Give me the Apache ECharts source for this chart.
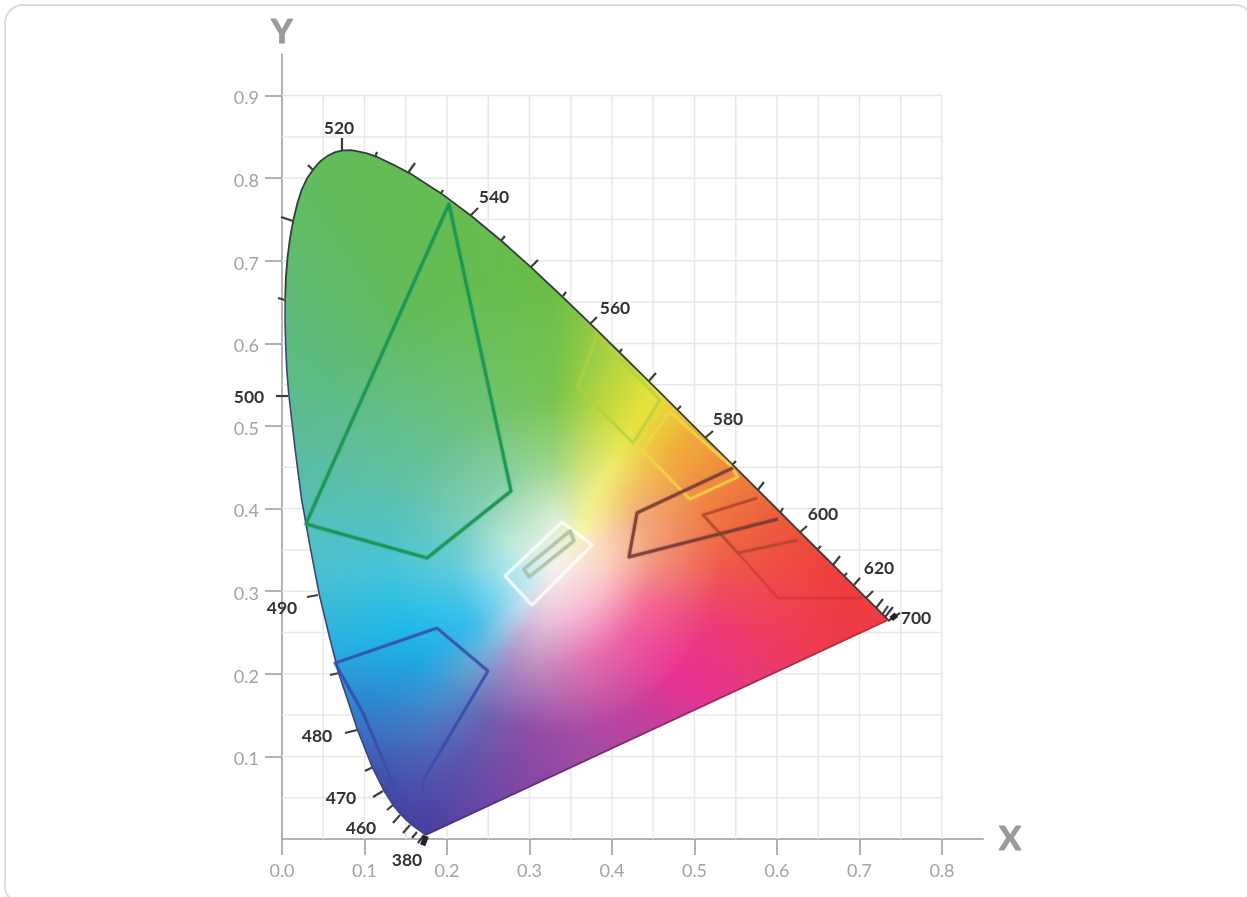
<!DOCTYPE html>
<html>
<head>
<meta charset="utf-8">
<style>
  html, body { margin: 0; padding: 0; background: #fff; }
  #chart { width: 1247px; height: 897px; }
</style>
<script src="https://cdn.jsdelivr.net/npm/echarts@6/dist/echarts.min.js"></script>
</head>
<body>
<div id="chart"></div>
<script>
// spectral locus, from 380 up the left side to 700
const locusLeft = [
  [0.1741, 0.005], [0.1566, 0.0177], [0.151, 0.0227], [0.144, 0.0297], [0.1355, 0.0399],
  [0.1241, 0.0578], [0.1096, 0.0868], [0.0913, 0.1327], [0.0805, 0.1655], [0.0687, 0.2007], [0.057, 0.247],
  [0.0454, 0.295], [0.0342, 0.353], [0.0235, 0.4127], [0.0155, 0.475], [0.0082, 0.5384], [0.0058, 0.568],
  [0.0045, 0.597], [0.0037, 0.626], [0.0039, 0.6548]
]
const locusRight = [
  [0.0039, 0.6548], [0.0047, 0.68], [0.0068, 0.705], [0.0098, 0.728], [0.0139, 0.7502], [0.0185, 0.769],
  [0.0238, 0.786], [0.0305, 0.8], [0.0389, 0.812], [0.0465, 0.8205], [0.0551, 0.827], [0.0645, 0.8315],
  [0.0743, 0.8338], [0.084, 0.834], [0.0936, 0.8322], [0.104, 0.8298], [0.1142, 0.8262], [0.1345, 0.8165],
  [0.155, 0.8059], [0.1929, 0.7816], [0.2296, 0.7543],
  [0.2658, 0.7243], [0.3016, 0.6923], [0.3373, 0.6589], [0.3731, 0.6245], [0.4087, 0.5896], [0.4441, 0.5547],
  [0.4788, 0.5202], [0.5125, 0.4866], [0.5448, 0.4544], [0.5752, 0.4242], [0.6029, 0.3965], [0.627, 0.3725],
  [0.6482, 0.3514], [0.6658, 0.334], [0.6915, 0.3083], [0.7079, 0.292], [0.719, 0.2809], [0.7347, 0.2653]
]

// tick marks across the locus: x1, y1, x2, y2
const tickSegments = [
  [-0.0048, 0.655, 0.0036, 0.6525], [-0.0012, 0.753, 0.0133, 0.7482], [0.0315, 0.816, 0.04, 0.8075],
  [0.0727, 0.8487, 0.0727, 0.8341], [0.1152, 0.8317, 0.1127, 0.8257], [0.1612, 0.8184, 0.1527, 0.8063],
  [0.1952, 0.7857, 0.1915, 0.7797], [0.2376, 0.7639, 0.2279, 0.7542], [0.2703, 0.73, 0.2642, 0.7228],
  [0.3103, 0.701, 0.3006, 0.6913], [0.3442, 0.6622, 0.3406, 0.6574], [0.3818, 0.632, 0.3721, 0.6223],
  [0.4121, 0.5932, 0.4085, 0.5884], [0.4533, 0.5642, 0.4436, 0.5533], [0.4836, 0.5242, 0.4788, 0.5194],
  [0.5224, 0.4939, 0.5127, 0.4855], [0.5503, 0.4576, 0.5455, 0.4528], [0.5842, 0.4322, 0.5758, 0.4213],
  [0.6073, 0.4007, 0.6036, 0.3947], [0.6364, 0.3789, 0.6267, 0.3705], [0.6533, 0.3547, 0.6485, 0.3499],
  [0.6764, 0.3426, 0.6679, 0.3317], [0.6848, 0.322, 0.68, 0.3172], [0.7006, 0.316, 0.6921, 0.3063],
  [0.7164, 0.3002, 0.7079, 0.2918], [0.7285, 0.2906, 0.72, 0.2797], [0.7345, 0.2821, 0.7273, 0.2712],
  [0.7406, 0.2809, 0.7309, 0.2688], [0.7491, 0.2736, 0.7345, 0.2639],
  [-0.0073, 0.5363, 0.0073, 0.5363], [0.0303, 0.293, 0.0436, 0.2954], [0.0582, 0.1985, 0.0691, 0.201],
  [0.0764, 0.1283, 0.0909, 0.132], [0.1006, 0.0823, 0.1103, 0.0872], [0.1103, 0.0508, 0.1224, 0.0581],
  [0.1273, 0.0351, 0.1345, 0.0412], [0.1345, 0.0194, 0.143, 0.0291], [0.1467, 0.0073, 0.1552, 0.0169],
  [0.1576, 0.0012, 0.1636, 0.0085], [0.1648, -0.0048, 0.1721, 0.0048]
]
// the ticks run together into dark blobs at both ends of the locus
const endBlobs = [[0.1705, -0.0075, 0.1748, 0.0035], [0.7385, 0.2665, 0.7447, 0.2715]]

const wavelengthNames = ['520', '540', '560', '580', '600', '620', '700', '500', '490', '480', '470', '460', '380']
const wavelengthX = [0.0691, 0.257, 0.4036, 0.5406, 0.6558, 0.7236, 0.7685, -0.04, 0, 0.0424, 0.0715, 0.0958, 0.1515]
const wavelengthY = [0.8608, 0.7772, 0.6429, 0.5085, 0.3935, 0.3281, 0.2676, 0.5351, 0.2797, 0.1247, 0.0496, 0.0133, -0.0254]

// binned regions
const greenRegion = [[0.2024, 0.7688], [0.2776, 0.4213], [0.1758, 0.3402], [0.029, 0.3814]]
const blueRegion = [
  [0.0642, 0.213], [0.1879, 0.2554], [0.2497, 0.2034], [0.171, 0.0714], [0.1721, 0.012],
  [0.1394, 0.0557], [0.1188, 0.1041], [0.0982, 0.1525]
]
const limeRegion = [[0.3818, 0.6102], [0.3588, 0.5472], [0.4255, 0.4794], [0.4582, 0.5315]]
const yellowRegion = [[0.4703, 0.517], [0.4364, 0.4709], [0.4945, 0.4116], [0.5527, 0.4383], [0.543, 0.4528]]
const amberRegion = [[0.5467, 0.4492], [0.4303, 0.3947], [0.4206, 0.3414], [0.6012, 0.3874]]
const orangeRegion = [[0.5758, 0.4128], [0.5103, 0.3923], [0.5527, 0.3462], [0.6255, 0.362]]
const redRegion = [[0.5527, 0.3462], [0.6012, 0.2918], [0.703, 0.2918]]
const whiteOuter = [[0.3394, 0.3838], [0.3758, 0.3559], [0.303, 0.2833], [0.2703, 0.3184]]
const whiteInner = [[0.3491, 0.3729], [0.3539, 0.3608], [0.2994, 0.3172], [0.2933, 0.3269]]

const xTicks = [0, 0.1, 0.2, 0.3, 0.4, 0.5, 0.6, 0.7, 0.8]
const yTicks = [0.1, 0.2, 0.3, 0.4, 0.5, 0.6, 0.7, 0.8, 0.9]
const xGridLines = [0.05, 0.1, 0.15, 0.2, 0.25, 0.3, 0.35, 0.4, 0.45, 0.5, 0.55, 0.6, 0.65, 0.7, 0.75, 0.8]
const yGridLines = [0.05, 0.1, 0.15, 0.2, 0.25, 0.3, 0.35, 0.4, 0.45, 0.5, 0.55, 0.6, 0.65, 0.7, 0.75, 0.8, 0.85, 0.9]

// colours of the horseshoe seen along rays out of the white point
const whitePoint = [0.33, 0.33]
const rayRadii = [0, 0.06, 0.12, 0.2, 0.35]
const rayAngles = [0, 15, 30, 45, 60, 75, 90, 120, 150, 180, 200, 215, 230, 245, 260, 280, 300, 320, 340]
const rayColors = [
  ['#f6f3ee', '#fbd0c4', '#f39080', '#ee5a4c', '#ee3d3a'],
  ['#f6f3ee', '#fbd8c0', '#f3a07c', '#ee7440', '#ee4a36'],
  ['#f6f3ee', '#fcdcc0', '#f2a878', '#f09040', '#ee7a3a'],
  ['#f6f3ee', '#f8f0b0', '#f2c868', '#f0b03a', '#f0a83a'],
  ['#f6f3ee', '#f5f3a0', '#efee7c', '#e8e43a', '#e4e23c'],
  ['#f6f3ee', '#e0eec0', '#cde17a', '#b8d63f', '#a0cf45'],
  ['#f6f3ee', '#d8efd5', '#a0d788', '#78c54f', '#6abd45'],
  ['#f6f3ee', '#c4e8cc', '#88cfa4', '#6cc27c', '#62bc5a'],
  ['#f6f3ee', '#bee9da', '#7ccdb8', '#62c1a4', '#5cbb92'],
  ['#f6f3ee', '#a8e5e8', '#62ccd9', '#46c4d8', '#50c0c8'],
  ['#f6f3ee', '#9fe0f0', '#40c4e8', '#20bbe6', '#30a4dc'],
  ['#f6f3ee', '#a8dff0', '#38bcec', '#1ea8e2', '#3a6cc0'],
  ['#f6f3ee', '#c4dfef', '#78b8dc', '#4a90cc', '#4048a8'],
  ['#f6f3ee', '#dcc8e0', '#b090c8', '#6a62b0', '#4b3fa0'],
  ['#f6f3ee', '#e8c8dc', '#c090c0', '#8a4ca4', '#7040a4'],
  ['#f6f3ee', '#f2c0d8', '#d878b4', '#a84ca4', '#8a48a4'],
  ['#f6f3ee', '#f5bcd4', '#e868a8', '#c4409e', '#b0469b'],
  ['#f6f3ee', '#f8c0cc', '#ef5ea0', '#ea3090', '#d8408e'],
  ['#f6f3ee', '#fac6c8', '#f26c90', '#ec3a78', '#ee3a50']
]

const chart = echarts.init(document.getElementById('chart'))
const locus = locusLeft.concat(locusRight.slice(1))
const px = (api, pts) => pts.map(p => api.coord(p))

const hexRgb = h => [1, 3, 5].map(i => parseInt(h.slice(i, i + 2), 16))
const rayRgb = rayColors.map(r => r.map(hexRgb))

// paints the colour field on a canvas that the locus polygon uses as its fill
let fieldCanvas = null
function colourField(api) {
  if (fieldCanvas) return fieldCanvas
  const o = api.coord([0, 0])
  const u = api.size([1, 1])
  const cv = document.createElement('canvas')
  cv.width = 1247
  cv.height = 897
  const ctx = cv.getContext('2d')
  const img = ctx.createImageData(cv.width, cv.height)
  const n = rayAngles.length
  for (let py = 130; py < 860; py++) {
    for (let pxx = 270; pxx < 910; pxx++) {
      const dx = (pxx - o[0]) / u[0] - whitePoint[0]
      const dy = (o[1] - py) / u[1] - whitePoint[1]
      let a = (Math.atan2(dy, dx) * 180) / Math.PI
      if (a < 0) a += 360
      const r = Math.hypot(dx, dy)
      let i = n - 1
      while (i > 0 && rayAngles[i] > a) i--
      const nextAngle = i === n - 1 ? 360 : rayAngles[i + 1]
      const ta = (a - rayAngles[i]) / (nextAngle - rayAngles[i])
      let j = 0
      while (j < rayRadii.length - 2 && rayRadii[j + 1] < r) j++
      const tr = Math.min(1, (r - rayRadii[j]) / (rayRadii[j + 1] - rayRadii[j]))
      const r0 = rayRgb[i]
      const r1 = rayRgb[(i + 1) % n]
      const k = (py * cv.width + pxx) * 4
      for (let c = 0; c < 3; c++) {
        const v0 = r0[j][c] + (r0[j + 1][c] - r0[j][c]) * tr
        const v1 = r1[j][c] + (r1[j + 1][c] - r1[j][c]) * tr
        img.data[k + c] = v0 + (v1 - v0) * ta
      }
      img.data[k + 3] = 255
    }
  }
  ctx.putImageData(img, 0, 0)
  // the original image is soft, so take the creases out of the mesh
  const soft = document.createElement('canvas')
  soft.width = cv.width
  soft.height = cv.height
  const sctx = soft.getContext('2d')
  sctx.filter = 'blur(4px)'
  sctx.drawImage(cv, 0, 0)
  fieldCanvas = soft
  return soft
}

const markSeries = (items, z, draw) => ({
  type: 'custom',
  coordinateSystem: 'cartesian2d',
  silent: true,
  clip: false,
  z,
  encode: { x: 0 },
  data: items.map((_, i) => [i]),
  renderItem: (params, api) => draw(items[params.dataIndex], api)
})

const segmentSeries = (items, color, width, z) =>
  markSeries(items, z, (t, api) => {
    const a = api.coord([t[0], t[1]])
    const b = api.coord([t[2], t[3]])
    return { type: 'line', shape: { x1: a[0], y1: a[1], x2: b[0], y2: b[1] }, style: { stroke: color, lineWidth: width } }
  })

const regionSeries = (points, color, width, z, type = 'polygon') =>
  markSeries([points], z, (pts, api) => ({
    type,
    shape: { points: px(api, pts) },
    style: {
      fill: 'none',
      stroke: typeof color === 'function' ? color(api) : color,
      lineWidth: width,
      lineJoin: 'round',
      shadowBlur: 2,
      shadowColor: typeof color === 'function' ? 'rgba(55,72,170,0.3)' : color
    }
  }))

// the blue region fades out towards the bottom tip
const blueStroke = api => {
  const top = api.coord([0, 0.11])
  const bottom = api.coord([0, 0.04])
  return new echarts.graphic.LinearGradient(0, top[1], 0, bottom[1], [
    { offset: 0, color: 'rgba(55,72,170,0.8)' },
    { offset: 1, color: 'rgba(55,72,170,0.06)' }
  ], true)
}

chart.setOption({
  animation: false,
  backgroundColor: '#fff',
  graphic: [
    {
      type: 'rect',
      shape: { x: 5, y: 5, width: 1248, height: 899, r: 18 },
      style: { fill: 'none', stroke: '#dcdcdc', lineWidth: 2 },
      silent: true
    },
    { type: 'text', x: 282, y: 32, style: { text: 'Y', font: 'bold 33px Lato', fill: '#9b9b9b', stroke: '#9b9b9b', lineWidth: 1.2, align: 'center', verticalAlign: 'middle' } },
    { type: 'text', x: 1010, y: 839, style: { text: 'X', font: 'bold 33px Lato', fill: '#9b9b9b', stroke: '#9b9b9b', lineWidth: 1.2, align: 'center', verticalAlign: 'middle' } }
  ],
  grid: { left: 282, top: 54.3, width: 701.25, height: 784.7 },
  xAxis: {
    type: 'value',
    min: 0,
    max: 0.85,
    axisLine: { show: true, onZero: false, lineStyle: { color: '#999', width: 1.5 } },
    axisTick: { show: true, length: 16, customValues: xTicks, lineStyle: { color: '#999', width: 1.5 } },
    axisLabel: { customValues: xTicks, margin: 23, color: '#a3a3a3', fontFamily: 'Lato', fontSize: 18, formatter: v => v.toFixed(1) },
    splitLine: { show: false }
  },
  yAxis: {
    type: 'value',
    min: 0,
    max: 0.95,
    axisLine: { show: true, onZero: false, lineStyle: { color: '#999', width: 1.5 } },
    axisTick: { show: true, length: 17, customValues: yTicks, lineStyle: { color: '#999', width: 1.5 } },
    axisLabel: { customValues: yTicks, margin: 23, verticalAlign: 'top', lineHeight: 6, color: '#a3a3a3', fontFamily: 'Lato', fontSize: 18, formatter: v => v.toFixed(1) },
    splitLine: { show: false }
  },
  series: [
    markSeries(xGridLines, 1, (x, api) => {
      const a = api.coord([x, 0])
      const b = api.coord([x, 0.9])
      return { type: 'line', shape: { x1: a[0], y1: a[1], x2: b[0], y2: b[1] }, style: { stroke: '#e8e8e8', lineWidth: 1.5 } }
    }),
    markSeries(yGridLines, 1, (y, api) => {
      const a = api.coord([0, y])
      const b = api.coord([0.8, y])
      return { type: 'line', shape: { x1: a[0], y1: a[1], x2: b[0], y2: b[1] }, style: { stroke: '#e8e8e8', lineWidth: 1.5 } }
    }),
    segmentSeries(tickSegments, '#3d3d3d', 2.2, 2),
    markSeries([locus], 3, (pts, api) => ({
      type: 'polygon',
      shape: { points: px(api, pts) },
      style: { fill: { image: colourField(api), repeat: 'no-repeat' } }
    })),
    // locus outline
    markSeries([locusLeft], 5, (pts, api) => ({
      type: 'polyline',
      shape: { points: px(api, pts) },
      style: { fill: 'none', stroke: '#3c4478', lineWidth: 1.6 }
    })),
    markSeries([locusRight], 5, (pts, api) => ({
      type: 'polyline',
      shape: { points: px(api, pts) },
      style: { fill: 'none', stroke: '#333f38', lineWidth: 1.8 }
    })),
    markSeries([[locus[locus.length - 1], locus[0]]], 5, (pts, api) => {
      const p = px(api, pts)
      return {
        type: 'line',
        shape: { x1: p[0][0], y1: p[0][1], x2: p[1][0], y2: p[1][1] },
        style: {
          lineWidth: 1.8,
          stroke: new echarts.graphic.LinearGradient(p[1][0], 0, p[0][0], 0, [
            { offset: 0, color: '#4a2f8a' },
            { offset: 0.5, color: '#8f2a70' },
            { offset: 1, color: '#c43035' }
          ], true)
        }
      }
    }),
    segmentSeries(endBlobs, '#222', 5.5, 5),
    regionSeries(greenRegion, 'rgba(28,150,85,0.9)', 3, 6),
    regionSeries(blueRegion, blueStroke, 3, 6),
    regionSeries(limeRegion, 'rgba(178,208,62,0.6)', 3, 6),
    regionSeries(yellowRegion, 'rgba(236,216,70,0.75)', 2.5, 6),
    regionSeries(redRegion, 'rgba(190,50,50,0.45)', 2.5, 6, 'polyline'),
    regionSeries(orangeRegion, 'rgba(175,68,45,0.75)', 2.5, 6, 'polyline'),
    regionSeries(amberRegion, 'rgba(120,60,50,0.82)', 3, 6, 'polyline'),
    regionSeries(whiteOuter, 'rgba(255,255,255,0.65)', 3, 6),
    regionSeries(whiteInner, 'rgba(165,190,165,0.7)', 3.5, 6),
    markSeries(wavelengthNames, 7, (name, api) => {
      const i = wavelengthNames.indexOf(name)
      const c = api.coord([wavelengthX[i], wavelengthY[i]])
      return {
        type: 'text',
        x: c[0],
        y: c[1],
        style: { text: name, font: 'bold 17.5px Lato', fill: '#333', align: 'center', verticalAlign: 'middle' }
      }
    })
  ]
})
</script>
</body>
</html>
